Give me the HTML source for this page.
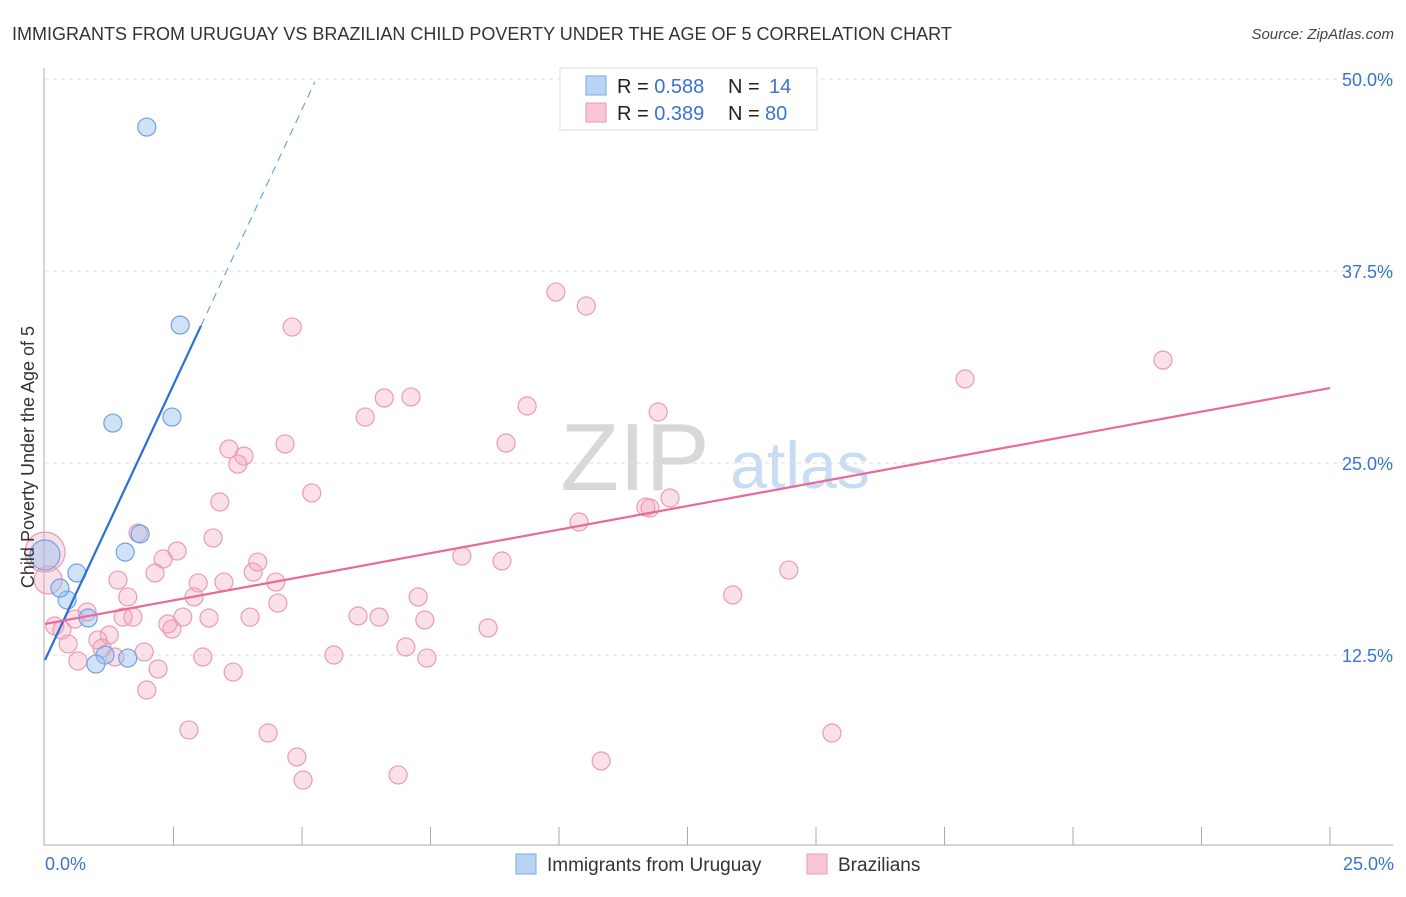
<!DOCTYPE html>
<html><head><meta charset="utf-8">
<style>
body{margin:0;background:#fff;font-family:"Liberation Sans",sans-serif;}
svg text{font-family:"Liberation Sans",sans-serif;}
</style></head>
<body>
<svg id="chart" width="1406" height="892" viewBox="0 0 1406 892" xmlns="http://www.w3.org/2000/svg">
<text x="12" y="40" font-size="18" fill="#333">IMMIGRANTS FROM URUGUAY VS BRAZILIAN CHILD POVERTY UNDER THE AGE OF 5 CORRELATION CHART</text>
<text x="1394" y="39" font-size="15" fill="#444" font-style="italic" text-anchor="end">Source: ZipAtlas.com</text>
<g>
<text x="635" y="490" font-size="96" fill="#d8d8d8" text-anchor="middle" font-family="Liberation Serif">ZIP</text>
<text x="800" y="488" font-size="66" fill="#c8dcf3" text-anchor="middle">atlas</text>
</g>
<g id="grid"></g>
<g id="axes"></g>
<g id="pinkPts"></g>
<g id="bluePts"></g>
<g id="trends"></g>
<text transform="translate(34,457) rotate(-90)" font-size="18" fill="#333" text-anchor="middle">Child Poverty Under the Age of 5</text>
<text x="45" y="870" font-size="18" fill="#3b73d0">0.0%</text>
<text x="1394" y="870" font-size="18" fill="#3b73d0" text-anchor="end">25.0%</text>
<g>
<rect x="560" y="68" width="257" height="62" fill="#fff" stroke="#ddd"/>
<rect x="586" y="76" width="20" height="19" fill="#b9d3f5" stroke="#7aa8e2"/>
<rect x="586" y="103" width="20" height="19" fill="#f9c6d4" stroke="#eb9ab5"/>
<text x="617" y="93" font-size="20" fill="#222">R = <tspan fill="#3b73d0">0.588</tspan><tspan x="728">N = </tspan><tspan x="769" fill="#3b73d0">14</tspan></text>
<text x="617" y="120" font-size="20" fill="#222">R = <tspan fill="#3b73d0">0.389</tspan><tspan x="728">N = </tspan><tspan x="765" fill="#3b73d0">80</tspan></text>
</g>
<g>
<rect x="516" y="854" width="20" height="20" fill="#b9d3f5" stroke="#7aa8e2"/>
<text x="547" y="871" font-size="19" fill="#333">Immigrants from Uruguay</text>
<rect x="807" y="854" width="20" height="20" fill="#f9c6d4" stroke="#eb9ab5"/>
<text x="838" y="871" font-size="19" fill="#333">Brazilians</text>
</g>
</svg>
<script>
const yTicks=[12.5,25,37.5,50];
const yTickLabels=["12.5%","25.0%","37.5%","50.0%"];
const xTickCount=10;
const pinkX=[4.81,9.94,10.53,6.60,7.12,6.23,9.38,11.93,8.97,4.67,3.58,3.87,3.75,5.19,3.40,12.16,11.69,11.77,10.39,3.27,1.81,2.57,2.30,8.11,8.89,2.14,14.47,4.05,4.14,1.42,2.98,3.48,4.49,2.90,1.61,7.26,13.38,4.53,0.82,1.52,1.71,2.68,3.19,3.99,6.09,6.50,7.39,0.58,0.19,0.33,2.39,2.47,1.25,1.03,0.45,1.11,1.93,5.62,7.02,8.62,3.07,7.43,0.64,1.36,2.20,3.66,1.98,2.80,4.34,15.31,4.90,10.82,5.02,6.87,17.90,21.75,0,0.06];
const pinkY=[33.85,36.13,35.22,29.23,29.30,27.99,28.71,28.32,26.30,26.24,25.91,25.45,24.93,23.05,22.46,22.72,22.13,22.07,21.16,20.12,20.44,19.27,18.75,18.94,18.62,17.84,18.03,17.90,18.55,17.38,17.19,17.25,17.25,16.28,16.28,16.28,16.41,15.88,15.30,14.97,14.97,14.97,14.91,14.97,15.04,14.97,14.78,14.84,14.39,14.13,14.52,14.19,13.80,13.48,13.22,12.95,12.70,12.50,13.02,14.26,12.37,12.30,12.11,12.37,11.59,11.39,10.22,7.62,7.42,7.42,5.86,5.60,4.36,4.69,30.47,31.70,19.20,17.38];
const pinkR=[9,9,9,9,9,9,9,9,9,9,9,9,9,9,9,9,9,9,9,9,9,9,9,9,9,9,9,9,9,9,9,9,9,9,9,9,9,9,9,9,9,9,9,9,9,9,9,9,9,9,9,9,9,9,9,9,9,9,9,9,9,9,9,9,9,9,9,9,9,9,9,9,9,9,9,9,20,14];
const blueX=[1.98,2.63,1.32,2.47,1.85,1.56,0.62,0.43,0.29,0.84,1.17,0.99,1.61,0];
const blueY=[46.87,33.98,27.60,27.99,20.38,19.20,17.84,16.08,16.86,14.91,12.50,11.91,12.30,19.01];
const blueR=[9,9,9,9,9,9,9,9,9,9,9,9,9,15];
const blueTrend=[12.17,7.17]; // intercept, slope
const pinkTrend=[14.52,0.6144];
const NS="http://www.w3.org/2000/svg";
const X0=45,X1=1330,Y0=847,PPY=15.36;
function sx(v){return X0+v/25*(X1-X0);}
function sy(v){return Y0-v*PPY;}
function mk(tag,attrs,parent){const e=document.createElementNS(NS,tag);for(const k in attrs)e.setAttribute(k,attrs[k]);parent.appendChild(e);return e;}
const grid=document.getElementById('grid');
yTicks.forEach((t,i)=>{
 const l=mk('line',{x1:45,x2:1393,y1:sy(t),y2:sy(t),stroke:'#ddd','stroke-dasharray':'4,4'},grid);
 
 
 const tx=mk('text',{x:1393,y:sy(t)+7,'font-size':18,fill:'#3b73d0','text-anchor':'end'},grid);
 tx.textContent=yTickLabels[i];
 
 
});
const axes=document.getElementById('axes');
const ya=mk('line',{x1:44,x2:44,y1:68,y2:845,stroke:'#aaa'},axes);


const xa=mk('line',{x1:44,x2:1393,y1:845,y2:845,stroke:'#aaa'},axes);


for(let k=1;k<=xTickCount;k++){
 const x=sx(25*k/xTickCount);
 const t=mk('line',{x1:x,x2:x,y1:827,y2:845,stroke:'#aaa'},axes);
 
 
}
function pts(xs,ys,rs,g,fill,stroke,name){
 xs.forEach((v,i)=>{
  const c=mk('circle',{cx:sx(v),cy:sy(ys[i]),r:rs[i],fill:fill,stroke:stroke,'stroke-width':1.2},g);
  
  
 });
}
pts(pinkX,pinkY,pinkR,document.getElementById('pinkPts'),'rgba(244,165,190,0.35)','#eb9ab5','brazilians-point');
pts(blueX,blueY,blueR,document.getElementById('bluePts'),'rgba(150,190,240,0.45)','#6ea3e0','uruguay-point');
const tr=document.getElementById('trends');
const bEnd=3.035,bDash=5.25;
const b1=mk('line',{x1:sx(0),y1:sy(blueTrend[0]),x2:sx(bEnd),y2:sy(blueTrend[0]+blueTrend[1]*bEnd),stroke:'#2a6fd6','stroke-width':2.2},tr);


const b2=mk('line',{x1:sx(bEnd),y1:sy(blueTrend[0]+blueTrend[1]*bEnd),x2:sx(bDash),y2:sy(blueTrend[0]+blueTrend[1]*bDash),stroke:'#6ea3e0','stroke-width':1.2,'stroke-dasharray':'8,6'},tr);


const p1=mk('line',{x1:sx(0),y1:sy(pinkTrend[0]),x2:sx(25),y2:sy(pinkTrend[0]+pinkTrend[1]*25),stroke:'#e8699a','stroke-width':2.2},tr);


</script>
</body></html>
